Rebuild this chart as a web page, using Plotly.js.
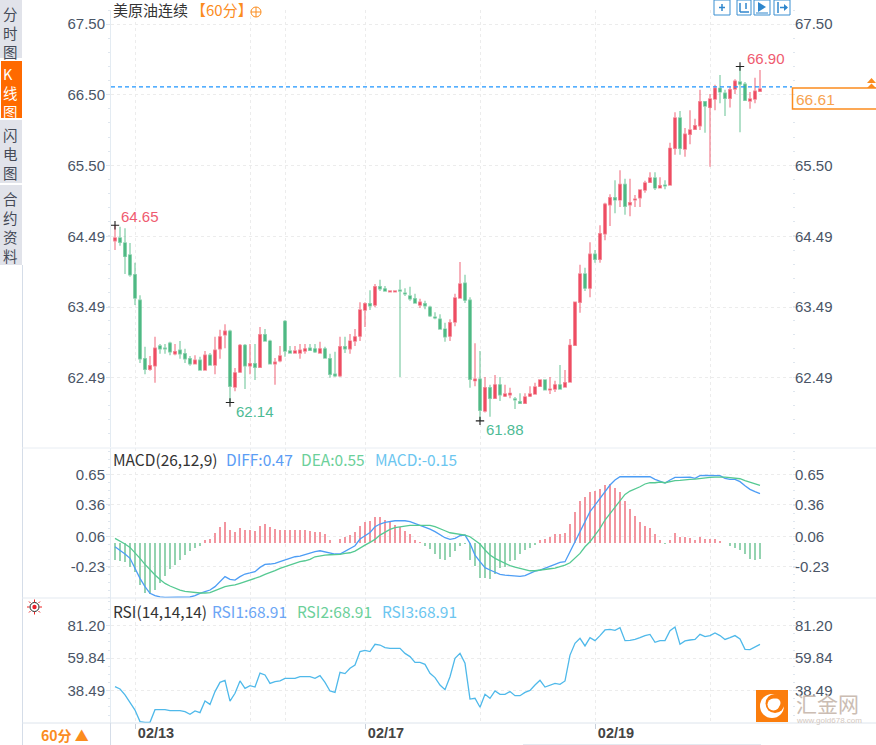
<!DOCTYPE html>
<html><head><meta charset="utf-8">
<script src="https://cdn.plot.ly/plotly-3.0.1.min.js"></script>
<style>html,body{margin:0;padding:0;background:#fff}#c{width:876px;height:745px}</style>
</head><body><div id="c"></div>
<script>
const open_=[64.43,64.47,64.40,64.23,63.95,63.59,62.76,62.61,62.66,62.94,62.91,62.98,62.83,62.88,62.83,62.76,62.69,62.74,62.60,62.81,62.67,62.90,63.10,63.15,62.36,62.57,62.95,62.66,62.69,62.64,63.10,63.01,62.69,62.73,63.29,62.87,62.84,62.84,62.87,62.91,62.90,62.84,62.90,62.76,62.54,62.52,62.93,62.90,63.01,63.08,63.45,63.54,63.52,63.78,63.75,63.71,63.71,63.73,63.69,63.65,63.61,63.52,63.54,63.49,63.35,63.32,63.18,63.08,63.28,63.62,63.83,63.59,62.45,62.47,62.02,62.35,62.20,62.39,62.23,62.25,62.19,62.15,62.13,62.23,62.26,62.37,62.46,62.32,62.33,62.39,62.36,62.43,62.95,63.56,63.96,63.76,64.24,64.17,64.53,64.94,65.04,65.01,65.23,64.94,65.01,65.04,65.15,65.26,65.32,65.18,65.22,65.22,65.74,66.17,65.73,65.94,66.01,66.06,66.40,66.32,66.44,66.59,66.52,66.45,66.58,66.68,66.65,66.41,66.44,66.55];
const high=[64.65,64.63,64.61,64.40,64.12,63.66,62.93,62.80,63.07,62.97,62.97,63.00,62.97,63.01,62.90,62.80,62.81,62.79,62.87,62.84,63.07,63.17,63.25,63.17,62.63,62.97,62.97,62.97,62.97,63.21,63.18,63.03,62.77,62.94,63.31,62.94,62.94,62.97,62.97,62.97,62.97,63.00,62.93,62.83,62.86,63.07,63.07,63.11,63.18,63.56,63.56,63.73,63.82,63.88,63.79,63.73,63.73,63.88,63.76,63.78,63.68,63.61,63.58,63.51,63.42,63.39,63.27,63.32,63.68,64.13,63.95,63.63,62.98,62.87,62.50,62.39,62.53,62.50,62.39,62.35,62.22,62.27,62.27,62.37,62.42,62.47,62.47,62.50,62.45,62.67,62.60,63.04,63.56,64.09,64.05,64.41,64.30,64.65,64.97,65.09,65.29,65.43,65.31,65.31,65.08,65.16,65.28,65.40,65.40,65.33,65.29,65.82,66.25,66.27,66.03,66.28,66.16,66.57,66.40,66.51,66.64,66.78,66.57,66.61,66.72,66.90,66.68,66.54,66.74,66.85];
const low=[64.30,64.36,63.96,63.92,63.52,62.70,62.54,62.59,62.42,62.83,62.83,62.81,62.81,62.76,62.70,62.66,62.69,62.59,62.59,62.66,62.54,62.76,62.91,62.14,62.30,62.56,62.33,62.54,62.46,62.64,63.00,62.69,62.39,62.71,62.79,62.83,62.83,62.76,62.83,62.87,62.84,62.83,62.76,62.49,62.50,62.50,62.84,62.83,62.94,63.01,63.21,63.45,63.49,63.72,63.71,63.71,63.71,62.50,63.65,63.58,63.54,63.48,63.46,63.35,63.32,63.17,63.00,63.01,63.22,63.62,63.55,62.35,62.37,61.88,62.00,61.94,62.19,62.16,62.22,62.20,62.05,62.12,62.12,62.22,62.26,62.36,62.32,62.26,62.29,62.33,62.36,62.42,62.95,63.41,63.72,63.63,64.12,64.12,64.44,64.64,64.82,64.91,64.80,64.78,64.91,64.91,65.11,65.25,65.15,65.18,65.16,65.22,65.65,65.65,65.62,65.80,66.00,66.00,65.96,65.48,66.28,66.38,66.20,66.32,66.51,65.97,66.42,66.30,66.38,66.55];
const close_=[64.47,64.41,64.21,63.95,63.62,62.76,62.61,62.66,62.91,62.90,62.90,62.86,62.86,62.83,62.76,62.69,62.74,62.60,62.81,62.67,62.88,63.07,63.15,62.37,62.56,62.95,62.66,62.69,62.64,63.10,63.01,62.69,62.71,62.80,62.87,62.84,62.87,62.88,62.90,62.88,62.86,62.90,62.77,62.54,62.52,62.93,62.90,63.01,63.07,63.45,63.54,63.51,63.78,63.75,63.72,63.72,63.72,63.72,63.68,63.61,63.55,63.56,63.51,63.37,63.34,63.18,63.07,63.27,63.62,63.82,63.59,62.47,62.47,62.03,62.35,62.20,62.39,62.25,62.26,62.27,62.18,62.13,62.22,62.26,62.36,62.46,62.32,62.33,62.39,62.33,62.42,62.95,63.56,63.96,63.76,64.24,64.17,64.53,64.95,65.04,65.01,65.23,64.92,64.97,65.02,65.15,65.25,65.32,65.18,65.21,65.21,65.74,66.17,65.74,65.94,66.00,66.06,66.40,66.34,66.44,66.59,66.54,66.45,66.57,66.69,66.65,66.42,66.44,66.55,66.58];
const macdBars=[-.16,-.175,-.18,-.23,-.28,-.40,-.48,-.49,-.45,-.38,-.32,-.25,-.21,-.16,-.12,-.08,-.05,-.03,.03,.04,.09,.15,.20,.12,.10,.14,.12,.12,.11,.16,.18,.15,.13,.12,.12,.12,.12,.12,.12,.11,.10,.10,.08,.03,-.005,.04,.05,.07,.10,.16,.20,.21,.24,.24,.22,.20,.17,.15,.11,.08,.03,.01,-.03,-.06,-.11,-.15,-.165,-.14,-.08,-.03,-.01,-.16,-.22,-.33,-.33,-.34,-.30,-.24,-.23,-.17,-.16,-.11,-.07,-.05,-.025,.025,.04,.05,.08,.08,.09,.175,.29,.40,.43,.48,.49,.51,.545,.555,.52,.48,.40,.32,.25,.20,.16,.14,.08,.025,-.01,.03,.09,.055,.05,.045,.03,.055,.04,.04,.04,.015,-.005,-.03,-.05,-.065,-.11,-.15,-.16,-.15];
const diff=[-.037,-.069,-.107,-.148,-.243,-.338,-.417,-.48,-.503,-.515,-.518,-.518,-.518,-.518,-.518,-.515,-.503,-.48,-.465,-.449,-.417,-.37,-.322,-.348,-.354,-.322,-.297,-.287,-.275,-.234,-.205,-.202,-.196,-.18,-.164,-.148,-.133,-.126,-.11,-.095,-.085,-.076,-.085,-.101,-.107,-.107,-.079,-.053,-.028,.035,.067,.098,.152,.178,.193,.203,.209,.209,.209,.2,.184,.168,.149,.13,.105,.073,.048,.032,.042,.067,.073,-.006,-.117,-.18,-.237,-.259,-.281,-.30,-.307,-.313,-.319,-.319,-.313,-.291,-.269,-.259,-.243,-.228,-.205,-.186,-.18,-.085,.01,.105,.2,.295,.358,.421,.485,.548,.596,.627,.627,.627,.627,.627,.627,.627,.602,.586,.567,.596,.621,.621,.624,.624,.611,.637,.64,.64,.64,.637,.611,.602,.602,.58,.542,.507,.485,.466];
const dea=[.042,.017,-.012,-.044,-.094,-.148,-.205,-.259,-.306,-.348,-.386,-.411,-.433,-.449,-.462,-.468,-.474,-.477,-.477,-.474,-.455,-.433,-.417,-.408,-.401,-.386,-.37,-.354,-.341,-.322,-.30,-.284,-.265,-.243,-.227,-.218,-.196,-.18,-.171,-.158,-.133,-.123,-.117,-.114,-.114,-.11,-.101,-.095,-.079,-.047,-.022,.004,.032,.073,.098,.127,.143,.152,.162,.165,.165,.165,.165,.165,.152,.13,.114,.095,.089,.08,.073,.057,.026,-.012,-.069,-.117,-.148,-.174,-.199,-.218,-.231,-.243,-.256,-.266,-.266,-.262,-.253,-.247,-.24,-.228,-.212,-.19,-.148,-.101,-.038,.01,.073,.136,.216,.279,.342,.406,.459,.491,.51,.532,.558,.57,.57,.577,.57,.58,.59,.592,.599,.602,.605,.608,.611,.621,.624,.627,.624,.618,.615,.608,.59,.573,.558,.545];
const rsi=[41.2,39.6,35.7,30.9,25.8,18.2,17.7,17.7,26.0,26.0,26.0,25.4,25.4,25.4,24.7,23.0,25.2,24.1,31.7,29.5,37.9,44.0,45.3,31.7,36.8,44.9,40.0,41.8,40.9,50.1,48.8,43.3,44.4,44.9,46.6,46.6,46.6,47.7,47.7,47.7,46.6,48.4,44.0,38.3,37.4,50.6,49.7,53.2,55.4,64.2,65.0,64.2,69.0,68.5,66.8,66.3,66.3,66.3,63.0,60.9,57.1,57.1,55.8,49.9,47.1,42.2,39.2,47.7,59.8,63.0,56.5,33.0,33.5,27.6,36.1,33.5,38.3,36.1,36.1,37.9,35.2,35.2,37.4,38.7,42.2,45.3,40.9,42.2,43.3,42.7,44.9,61.9,69.6,72.9,67.9,73.3,71.4,74.7,78.4,78.8,78.2,79.9,71.4,71.6,72.2,73.3,74.7,75.5,70.3,71.4,71.4,77.9,80.3,69.0,71.2,71.8,72.2,75.5,74.0,74.7,76.4,74.7,72.2,73.3,74.7,72.5,65.7,65.5,67.4,68.91];
const idx=open_.map((_,i)=>i);
const priceTicks=[67.5,66.5,65.5,64.49,63.49,62.49];
const priceTicksRight=[67.5,65.5,64.49,63.49,62.49];
const macdTicks=[.65,.36,.06,-.23];
const rsiTicks=[81.2,59.84,38.49];
const dateTicks=[4,50,96], dateLabels=['02/13','02/17','02/19'];
const extraGrid=[27,34,73,119];
const lastPrice=66.61;
const extremesX=[0,23,73,125], extremesY=[64.65,62.14,61.88,66.90];

const W=876,H=745,RED='#ee4d63',GREEN='#4fb985';
const FONT='"Liberation Sans",Arial,sans-serif', CJK='"Noto Sans CJK SC","Liberation Sans",sans-serif';
const fx=x=>x/W, fy=y=>1-y/H;
const ann=(text,x,y,color,size,extra)=>Object.assign({text,x:fx(x-2),y:fy(y),xref:'paper',yref:'paper',xanchor:'left',yanchor:'middle',showarrow:false,font:{color,size,family:CJK},align:'left'},extra||{});
const dataAnn=(text,x,y,color,ax,ay)=>({text,x,y,xref:'x',yref:'y',xanchor:'left',yanchor:'middle',showarrow:false,xshift:ax,yshift:ay,font:{color,size:15,family:FONT}});
const rect=(x0,y0,x1,y1,o)=>Object.assign({type:'rect',xref:'paper',yref:'paper',x0:fx(x0),x1:fx(x1),y0:fy(y0),y1:fy(y1),line:{width:0}},o||{});
const line=(x0,y0,x1,y1,c,w)=>({type:'line',xref:'paper',yref:'paper',x0:fx(x0),x1:fx(x1),y0:fy(y0),y1:fy(y1),line:{color:c,width:w||1}});
const circ=(cx,cy,r,o)=>Object.assign({type:'circle',xref:'paper',yref:'paper',x0:fx(cx-r),x1:fx(cx+r),y0:fy(cy-r),y1:fy(cy+r),line:{width:0}},o||{});
const path=(pts,o)=>Object.assign({type:'path',xref:'paper',yref:'paper',path:pts.map((p,i)=>(i?'L':'M')+fx(p[0])+','+fy(p[1])).join(' ')+' Z',line:{width:0}},o||{});

const traces=[
 {type:'candlestick',x:idx,open:open_,high,low,close:close_,xaxis:'x',yaxis:'y',whiskerwidth:0,
  increasing:{line:{color:'rgba(238,77,99,.62)',width:1.4},fillcolor:RED},
  decreasing:{line:{color:'rgba(79,185,133,.62)',width:1.4},fillcolor:GREEN},hoverinfo:'skip'},
 {type:'scatter',mode:'markers',x:extremesX,y:extremesY,xaxis:'x',yaxis:'y',marker:{symbol:'cross-thin',size:6,line:{color:'#222',width:1.1}},hoverinfo:'skip'},
 {type:'scatter',mode:'lines',x:[0],y:[lastPrice],xaxis:'x',yaxis:'y4',line:{width:0},hoverinfo:'skip'},
 {type:'bar',x:idx,y:macdBars,xaxis:'x2',yaxis:'y2',width:.42,marker:{color:macdBars.map(v=>v>=0?'#f2959f':'#94d3b0'),line:{width:0}},hoverinfo:'skip'},
 {type:'scatter',mode:'lines',x:idx,y:diff,xaxis:'x2',yaxis:'y2',line:{color:'#4d9df5',width:1.3},hoverinfo:'skip'},
 {type:'scatter',mode:'lines',x:idx,y:dea,xaxis:'x2',yaxis:'y2',line:{color:'#55c992',width:1.3},hoverinfo:'skip'},
 {type:'scatter',mode:'lines',x:[0],y:[0],xaxis:'x2',yaxis:'y5',line:{width:0},hoverinfo:'skip'},
 {type:'scatter',mode:'lines',x:idx,y:rsi,xaxis:'x3',yaxis:'y3',line:{color:'#4fb9ea',width:1.3},hoverinfo:'skip'},
 {type:'scatter',mode:'lines',x:[0],y:[50],xaxis:'x3',yaxis:'y6',line:{width:0},hoverinfo:'skip'}
];

const XR=[-0.8,135.4], XD=[fx(111),fx(792)];
const gridC='#ececec', axC='#e3ebf2';
const xBase=(anchor,o)=>Object.assign({domain:XD,range:XR,anchor,showticklabels:false,ticks:'',tickmode:'array',tickvals:dateTicks.concat(extraGrid),showgrid:true,gridcolor:gridC,griddash:'dot',gridwidth:1,zeroline:false,showline:false,fixedrange:true,rangeslider:{visible:false}},o||{});
const yBase=(dom,rng,vals,minorD,minor0,side,over)=>Object.assign({domain:dom,range:rng,anchor:side==='right'?(over==='y'?'x':over==='y2'?'x2':'x3'):undefined,side,tickmode:'array',tickvals:vals,ticktext:vals.map(v=>v.toFixed(2)),ticks:'outside',ticklen:4,tickcolor:'#dfe6ee',ticklabelstandoff:side==='right'?-5:-2,tickfont:{family:FONT,size:15,color:'#4a5566'},showgrid:!over,gridcolor:gridC,griddash:'dot',zeroline:false,showline:!over,linecolor:axC,fixedrange:true,
 minor:{tickmode:'linear',tick0:minor0,dtick:minorD,ticks:'outside',ticklen:2,tickcolor:'#dfe6ee',showgrid:false}},over?{overlaying:over}:{});
const DK=[fy(447),fy(10)],DM=[fy(598),fy(448)],DR=[fy(723),fy(598)];
const RK=[61.51,67.70],RM=[-.5247,.8998],RR=[17.27,99.4];

const ORANGE='#fb8c1e';
const shapes=[
 rect(0,0,22,58,{fillcolor:'#e1e3ea',layer:'below'}),
 rect(1,61,22,118,{fillcolor:'#ff6a00',layer:'below'}),
 rect(0,120,22,183,{fillcolor:'#e1e3ea',layer:'below'}),
 rect(0,185,22,265,{fillcolor:'#e1e3ea',layer:'below'}),
 line(22.5,265,22.5,745,'#d5dde8'),
 line(22,448,876,448,'#e8edf3'),line(22,598,876,598,'#e3e9f0'),line(22,723,876,723,'#dde4ec'),
 line(110.5,723,110.5,745,'#d5dde8'),line(523,744.5,761,744.5,'#e3e9f0'),
 {type:'line',xref:'x',yref:'y',x0:XR[0],x1:XR[1],y0:lastPrice,y1:lastPrice,line:{color:'#1e95ff',width:1.2,dash:'4px,3px'}},
 rect(792.5,88,877,109,{line:{color:ORANGE,width:1.5}}),
 path([[867,83],[871.5,78],[876,83]],{fillcolor:ORANGE}),
 path([[867,88],[871.5,83.5],[876,88]],{fillcolor:ORANGE}),
 circ(256,12,5,{line:{color:ORANGE,width:1}}),line(251,12,261,12,ORANGE),line(256,7,256,17,ORANGE),
 rect(714,0,730,15,{line:{color:'#3b8fd1',width:1}}),rect(737,0,751,15,{line:{color:'#3b8fd1',width:1}}),
 rect(754,0,770,15,{line:{color:'#3b8fd1',width:1}}),rect(774,0,790,15,{line:{color:'#3b8fd1',width:1}}),
 line(719,7.5,725,7.5,'#2f86cc',1.5),line(722,4,722,11,'#2f86cc',1.5),
 line(740,3,740,12,'#2f86cc',1.5),line(740,12,749,12,'#2f86cc',1.5),line(746,3,746,9,'#2f86cc',1.5),
 path([[758,2],[766,7],[758,12]],{fillcolor:'#2f86cc'}),line(756,13,768,13,'#2f86cc',1),
 line(778,2,778,13,'#2f86cc',1.5),line(780,7.5,787,7.5,'#2f86cc',1.5),path([[784,4],[788,7.5],[784,11]],{fillcolor:'#2f86cc'}),
 line(34.5,599.5,34.5,602,'#ee2222'),line(34.5,612,34.5,614.5,'#ee2222'),line(27,607,29.5,607,'#ee2222'),line(39.5,607,42,607,'#ee2222'),
 line(29,601.5,30.5,603,'#ee2222'),line(38.5,611,40,612.5,'#ee2222'),line(29,612.5,30.5,611,'#ee2222'),line(38.5,603,40,601.5,'#ee2222'),
 circ(34.5,607,4.5,{line:{color:'#222',width:1},fillcolor:'#fff'}),circ(34.5,607,2.2,{fillcolor:'#e8202a'}),
 rect(756,690,788,722,{fillcolor:'#fb7d0c'}),
 circ(772,706,12,{fillcolor:'#fff'}),circ(775,703.5,9.5,{fillcolor:'#fb7d0c'}),circ(773.5,704.5,6,{fillcolor:'#fff'}),circ(776,703,4.5,{fillcolor:'#fff'})
];

const annotations=[
 ann('分<br>时<br>图',3,32,'#454a57',14.5),
 ann('K<br>线<br>图',3,92,'#ffffff',14.5),
 ann('闪<br>电<br>图',3,153.5,'#454a57',14.5),
 ann('合<br>约<br>资<br>料',3,227,'#454a57',14.5),
 ann('美原油连续',113,10,'#333',15),
 ann('【60分】',191,10,ORANGE,15),
 ann('MACD(26,12,9)',113,459,'#333',15.5),
 ann('DIFF:0.47',226,459,'#5b9df5',15.5),
 ann('DEA:0.55',301,459,'#6cd09a',15.5),
 ann('MACD:-0.15',375,459,'#6cc6f0',15.5),
 ann('RSI(14,14,14)',113,611,'#333',15.5),
 ann('RSI1:68.91',212,611,'#6ca6f5',15.5),
 ann('RSI2:68.91',297,611,'#6cd09a',15.5),
 ann('RSI3:68.91',382,611,'#6cc6f0',15.5),
 ann('60分 ▲',41,734.5,ORANGE,14,{font:{color:ORANGE,size:14,family:CJK,weight:700}}),
 ann('66.61',796,99,'#f7a34f',15.5,{font:{color:'#f7a34f',size:15.5,family:FONT}}),
 dataAnn('64.65',0,64.65,'#ef5b70',4,9),
 dataAnn('62.14',23,62.14,'#4dbb95',4,-9),
 dataAnn('61.88',73,61.88,'#4dbb95',4,-9),
 dataAnn('66.90',125,66.90,'#ef5b70',5,8),
 ann('汇金网',796,703,'#cbbdb3',21),
 ann('www.gold678.com',796,720,'#d3c8c0',8,{font:{color:'#d3c8c0',size:8,family:FONT}})
];

const layout={width:W,height:H,margin:{l:0,r:0,t:0,b:0},paper_bgcolor:'#fff',plot_bgcolor:'rgba(0,0,0,0)',showlegend:false,bargap:0,dragmode:false,
 xaxis:xBase('y'),
 xaxis2:xBase('y2'),
 xaxis3:xBase('y3',{tickvals:dateTicks,ticktext:dateLabels,showticklabels:true,ticks:'outside',ticklen:5,tickcolor:'#c8d0da',ticklabelshift:21,ticklabelstandoff:-8,tickfont:{family:FONT,size:14.5,color:'#444',weight:700},minor:{tickmode:'array',tickvals:extraGrid,showgrid:true,gridcolor:gridC,griddash:'dot',ticks:''}}),
 yaxis:Object.assign(yBase(DK,RK,priceTicks,.2,.5,'left'),{anchor:'x'}),
 yaxis2:Object.assign(yBase(DM,RM,macdTicks,.073,.06,'left'),{anchor:'x2'}),
 yaxis3:Object.assign(yBase(DR,RR,rsiTicks,5.34,38.49,'left'),{anchor:'x3'}),
 yaxis4:yBase(DK,RK,priceTicksRight,.2,.5,'right','y'),
 yaxis5:yBase(DM,RM,macdTicks,.073,.06,'right','y2'),
 yaxis6:yBase(DR,RR,rsiTicks,5.34,38.49,'right','y3'),
 shapes,annotations
};
Plotly.newPlot('c',traces,layout,{staticPlot:true,displayModeBar:false});
</script></body></html>
